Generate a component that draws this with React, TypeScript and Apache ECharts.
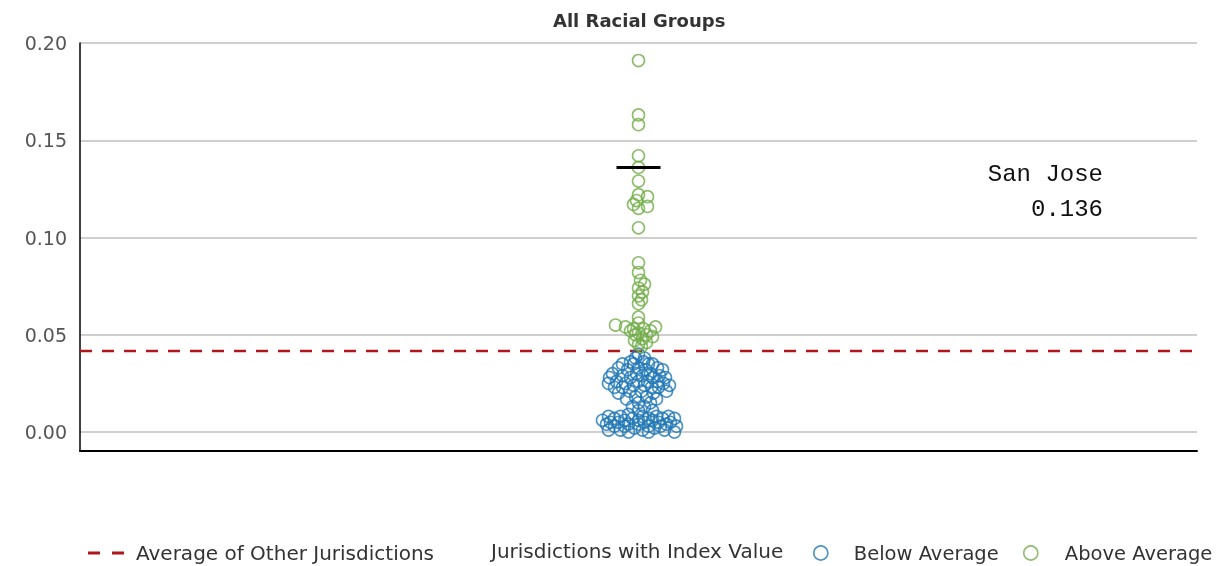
import React, { useEffect, useRef } from "react";
import * as echarts from "echarts";

const yTicks = [0, 0.05, 0.1, 0.15, 0.2];
const averageValue = 0.0416;
const sanJoseValue = 0.136;

const aboveValues = [
  0.191, 0.163, 0.158, 0.142, 0.136, 0.129, 0.122, 0.121, 0.119, 0.117, 0.116, 0.115, 0.105,
  0.087, 0.082, 0.078, 0.076, 0.074, 0.072, 0.07, 0.068, 0.066, 0.059, 0.056,
  0.055, 0.054, 0.054, 0.053, 0.053, 0.052, 0.052, 0.051, 0.05, 0.05, 0.049, 0.048, 0.047, 0.046, 0.045, 0.044,
];
const aboveOffsets = [
  0, 0, 0, 0, 0, 0, 0, 9, -2, -5, 9, 0, 0,
  0, 0, 2, 6, 0, 4, 0, 3, 0, 0, 0,
  -23, -13, 17, -5, 5, 12, -8, 0, 8, -3, 14, 4, -4, 8, 0, 3,
];

const belowValues = [
  0.04,
  0.038, 0.038,
  0.036, 0.036,
  0.035, 0.035, 0.035, 0.035,
  0.033, 0.033, 0.033,
  0.032, 0.032, 0.032,
  0.03, 0.03, 0.03,
  0.029, 0.029, 0.029,
  0.028, 0.028, 0.028, 0.028,
  0.026, 0.026, 0.026, 0.026,
  0.025, 0.025, 0.025,
  0.024, 0.024, 0.024,
  0.023, 0.023, 0.023, 0.023,
  0.021, 0.021, 0.021,
  0.02, 0.02,
  0.018, 0.018,
  0.017, 0.017,
  0.015, 0.015,
  0.013, 0.013,
  0.011, 0.011,
  0.009,
  0.008, 0.008, 0.008, 0.008, 0.008,
  0.007, 0.007, 0.007, 0.007, 0.007,
  0.006, 0.006, 0.006, 0.006,
  0.005, 0.005, 0.005, 0.005, 0.005,
  0.004, 0.004, 0.004, 0.004,
  0.003, 0.003, 0.003, 0.003, 0.003,
  0.002, 0.002,
  0.001, 0.001, 0.001, 0.001,
  0.0, 0.0, 0.0,
];
const belowOffsets = [
  0,
  -3, 6,
  -8, 5,
  -16, -5, 10, 14,
  -20, 0, 19,
  -11, 7, 24,
  -26, -2, 12,
  -16, 4, 21,
  -29, -8, 14, 27,
  -22, 0, 9, 19,
  -30, -13, 25,
  -5, 6, 31,
  -24, -16, 13, 20,
  -9, 3, 28,
  -20, 15,
  -3, 8,
  -12, 18,
  0, 12,
  -6, 6,
  0, 14,
  -10,
  -30, -18, 4, 18, 30,
  -24, -6, 10, 24, 36,
  -36, -14, 0, 14,
  -28, -20, 6, 20, 32,
  -32, -10, 0, 28,
  -24, -14, 10, 22, 38,
  -4, 16,
  -30, -18, 4, 26,
  -10, 10, 36,
];

const X_HALF = 558.5;
const sanJoseHalfWidth = 22;

const FONT = "DejaVu Sans";
const BLUE = "#1f77b4";
const GREEN = "#70ad47";
const RED = "#b0161c";
const DASH_ICON = "path://M0,0h12v3h-12z M24,0h12v3h-12z";

export default function App() {
  const ref = useRef<HTMLDivElement>(null);
  useEffect(() => {
    if (!ref.current) return;
    const chart = echarts.init(ref.current, null, { renderer: "svg" });
    const above = aboveValues.map((v, i) => [aboveOffsets[i], v]);
    const below = belowValues.map((v, i) => [belowOffsets[i], v]);
    const hollow = (c: string) => ({ color: "rgba(255,255,255,0)", borderColor: c, borderWidth: 1.6 });
    const legendText = { fontFamily: FONT, fontSize: 20, color: "#333" };
    const legendText2 = { fontFamily: FONT, fontSize: 19.5, color: "#333" };
    chart.setOption({
      animation: false,
      title: {
        text: "All Racial Groups",
        left: 548,
        top: 6,
        textStyle: { fontFamily: FONT, fontSize: 18, fontWeight: "bold", color: "#333" },
      },
      grid: [
        { left: 80, right: 19, top: 43, bottom: 134 },
        { left: 80, right: 19, top: 43, bottom: 115 },
      ],
      xAxis: [
        { type: "value", gridIndex: 0, min: -X_HALF, max: X_HALF, show: false },
        {
          type: "value", gridIndex: 1, min: 0, max: 1,
          axisLine: { show: true, lineStyle: { color: "#000", width: 2 } },
          axisTick: { show: false }, axisLabel: { show: false }, splitLine: { show: false },
        },
      ],
      yAxis: [
        {
          type: "value", gridIndex: 0, min: yTicks[0], max: yTicks[yTicks.length - 1], interval: 0.05,
          axisLine: { show: false }, axisTick: { show: false },
          axisLabel: {
            margin: 13, fontFamily: FONT, fontSize: 19, color: "#555",
            formatter: (v: number) => v.toFixed(2),
          },
          splitLine: { show: true, lineStyle: { color: "#bfbfbf", width: 1.5 } },
        },
        {
          type: "value", gridIndex: 1, min: 0, max: 1,
          axisLine: { show: true, lineStyle: { color: "#000", width: 1.5 } },
          axisTick: { show: false }, axisLabel: { show: false }, splitLine: { show: false },
        },
      ],
      legend: [
        {
          left: 83, top: 538, itemWidth: 40, itemHeight: 3,
          data: [{ name: "Average of Other Jurisdictions", icon: DASH_ICON, itemStyle: { color: RED } }],
          textStyle: { ...legendText, padding: [0, 0, 0, 5] },
        },
        {
          left: 808, top: 538, itemWidth: 14, itemHeight: 14,
          data: [{ name: "Below Average", icon: "circle", itemStyle: hollow(BLUE) }],
          textStyle: { ...legendText2, padding: [0, 0, 0, 21] },
        },
        {
          left: 1018, top: 538, itemWidth: 14, itemHeight: 14,
          data: [{ name: "Above Average", icon: "circle", itemStyle: hollow(GREEN) }],
          textStyle: { ...legendText2, padding: [0, 0, 0, 22] },
        },
      ],
      graphic: [
        {
          type: "text", left: 491, top: 541,
          style: { text: "Jurisdictions with Index Value", ...legendText, fill: "#333" },
        },
        {
          type: "text", right: 113, top: 162,
          style: { text: "San Jose", fontFamily: "Liberation Mono", fontSize: 24, fill: "#111", textAlign: "right" },
        },
        {
          type: "text", right: 113, top: 197,
          style: { text: "0.136", fontFamily: "Liberation Mono", fontSize: 24, fill: "#111", textAlign: "right" },
        },
      ],
      series: [
        {
          name: "Average of Other Jurisdictions",
          type: "line", xAxisIndex: 0, yAxisIndex: 0,
          data: [[-X_HALF, averageValue], [X_HALF, averageValue]],
          symbol: "none", z: 1,
          lineStyle: { color: RED, width: 2.5, type: [12, 10] },
          itemStyle: { color: RED },
        },
        {
          name: "Below Average", type: "scatter", xAxisIndex: 0, yAxisIndex: 0,
          data: below, symbol: "circle", symbolSize: 12, clip: false, z: 3,
          itemStyle: hollow(BLUE),
        },
        {
          name: "Above Average", type: "scatter", xAxisIndex: 0, yAxisIndex: 0,
          data: above, symbol: "circle", symbolSize: 12, clip: false, z: 3,
          itemStyle: hollow(GREEN),
        },
        {
          name: "San Jose", type: "line", xAxisIndex: 0, yAxisIndex: 0,
          data: [[-sanJoseHalfWidth, sanJoseValue], [sanJoseHalfWidth, sanJoseValue]],
          symbol: "none", z: 5,
          lineStyle: { color: "#000", width: 3 },
        },
      ],
    });
    return () => chart.dispose();
  }, []);
  return <div ref={ref} style={{ position: "fixed", left: 0, top: 0, width: 1216, height: 566 }} />;
}
